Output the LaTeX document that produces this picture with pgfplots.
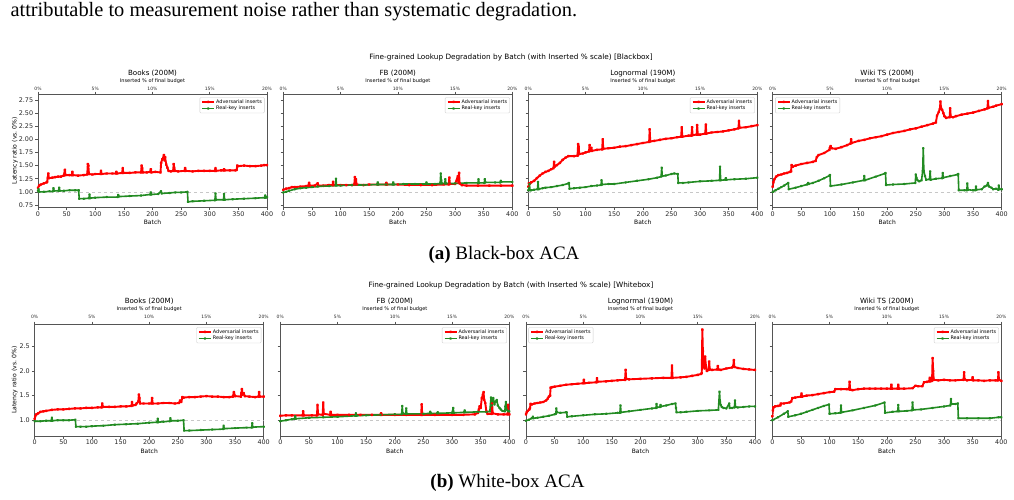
\documentclass[border=0pt]{standalone}
\usepackage{fontspec}
\setmainfont{Liberation Serif}
\newfontfamily\dejavu{DejaVu Sans}
\usepackage{pgfplots}
\pgfplotsset{compat=1.18}

\definecolor{advred}{RGB}{255,0,0}
\definecolor{realgreen}{RGB}{34,139,34}
\definecolor{spine}{RGB}{85,85,85}
\newcommand\fs[1]{\dejavu\fontsize{#1}{#1}\selectfont}

\pgfplotsset{
  panel/.style={
    scale only axis, width=229pt,
    xmin=0, xmax=400, xtick={0,50,...,400},
    xtick pos=bottom, ytick pos=left,
    tick align=outside, major tick length=2.8pt,
    axis line style={spine, line width=0.8pt},
    every tick/.style={spine, line width=0.6pt},
    tick label style={font=\fs{6.4}, text=black!85},
    /pgf/number format/assume math mode=true,
    xticklabel style={anchor=center, inner sep=0pt, yshift=-3.6pt},
    yticklabel style={anchor=east, inner sep=0pt, xshift=-1.9pt},
    xlabel={Batch},
    xlabel style={font=\fs{6}, anchor=center},
    ylabel style={font=\fs{6.1}, anchor=center},
    legend cell align=left,
    legend style={font=\fs{4.9}, draw=black!20, fill=white, rounded corners=1pt,
      inner xsep=1.5pt, inner ysep=0.8pt, row sep=-0.6pt, nodes={inner sep=1pt}},
    legend image code/.code={\draw[mark repeat=2,mark phase=2,#1]
      plot coordinates {(0pt,0pt) (6pt,0pt) (12pt,0pt)};},
  },
  row1/.style={panel, height=113pt, ymin=0.706, ymax=2.857,
    ytick={0.75,1,1.25,1.5,1.75,2,2.25,2.5,2.75},
    yticklabel style={/pgf/number format/.cd, fixed, fixed zerofill, precision=2},
    xlabel style={at={(0.5,-0.1327)}}, ylabel style={at={(-0.1004,0.5)}}},
  row2/.style={panel, height=111.7pt, ymin=0.68, ymax=2.946,
    ytick={1,1.5,2,2.5},
    yticklabel style={/pgf/number format/.cd, fixed, fixed zerofill, precision=1},
    xlabel style={at={(0.5,-0.1406)}}, ylabel style={at={(-0.0872,0.5)}}},
  nolab/.style={yticklabels={}},
  legR/.style={legend style={at={(1,1)}, anchor=north east, xshift=-2.4pt, yshift=-3pt}},
  legL/.style={legend style={at={(0,1)}, anchor=north west, xshift=2.4pt, yshift=-3pt}},
  top/.style={
    scale only axis, width=229pt,
    xmin=0, xmax=20, ymin=0, ymax=1,
    axis x line*=top, axis y line=none,
    xtick={0,5,10,15,20}, xticklabels={0\%,5\%,10\%,15\%,20\%},
    tick align=outside, major tick length=2.8pt,
    axis line style={spine, line width=0.8pt},
    every tick/.style={spine, line width=0.6pt},
    xticklabel style={font=\fs{4.5}, text=black!85, anchor=center, inner sep=0pt},
    xlabel={Inserted \% of final budget},
    xlabel style={font=\fs{5}, anchor=center},
    title style={font=\fs{7.1}, anchor=center},
  },
  top1/.style={top, height=113pt, xticklabel style={yshift=2.5pt},
    xlabel style={at={(0.5,1.118)}}, title style={at={(0.5,1.1327)}}},
  top2/.style={top, height=111.7pt, xticklabel style={yshift=4.8pt},
    xlabel style={at={(0.5,1.132)}}, title style={at={(0.5,1.1486)}}},
  refline/.style={forget plot, black!22, dashed, line width=0.7pt},
  adv/.style={advred, line width=1.9pt, line join=round, mark=*, mark size=0.55pt},
  real/.style={realgreen, line width=1.6pt, line join=round, mark=*, mark size=0.55pt},
}

\begin{document}
\begin{tikzpicture}
\path[use as bounding box] (0pt,0pt) rectangle (1014pt,-499pt);

% running text above the figure
\node[anchor=base west, font=\fontsize{20.4}{24}\selectfont] at (7pt,-16.7pt)
  {attributable to measurement noise rather than systematic degradation.};

% ===================== (a) Blackbox =====================
\node[font=\fs{7.3}] at (511pt,-57pt)
  {Fine-grained Lookup Degradation by Batch (with Inserted \% scale) [Blackbox]};

% Books (200M)
\begin{axis}[row1, legR, at={(38pt,-94.3pt)}, anchor=north west,
  ylabel={Latency ratio (vs.\ 0\%)}]
\addplot[refline] coordinates {(0,1) (400,1)};
\addplot[adv] coordinates {
(0,1.08) (2,1.12) (5,1.14) (10,1.16) (15,1.18) (16,1.19) (17,1.27) (18,1.35) (19,1.26)
(25,1.27) (30,1.28) (35,1.29) (40,1.29) (45,1.31) (47,1.42) (48,1.32) (55,1.32) (59,1.32)
(60,1.38) (61,1.32) (70,1.31) (80,1.32) (86,1.33) (87,1.53) (88,1.50) (89,1.34) (95,1.33)
(100,1.34) (109,1.34) (110,1.40) (111,1.34) (120,1.35) (130,1.35) (136,1.35) (137,1.38)
(138,1.35) (147,1.36) (148,1.45) (149,1.36) (160,1.36) (170,1.37) (180,1.37) (181,1.50)
(182,1.45) (183,1.37) (190,1.37) (196,1.38) (197,1.43) (198,1.37) (205,1.38) (214,1.37)
(215,1.55) (217,1.62) (219,1.65) (220,1.70) (221,1.60) (222,1.66) (224,1.52) (226,1.46)
(228,1.40) (232,1.39) (236,1.40) (237,1.53) (238,1.46) (239,1.40) (245,1.39) (256,1.40)
(257,1.45) (258,1.40) (270,1.39) (280,1.40) (290,1.40) (300,1.40) (309,1.40) (310,1.45)
(311,1.40) (320,1.41) (324,1.41) (325,1.43) (326,1.41) (335,1.41) (345,1.41) (347,1.42)
(348,1.50) (350,1.49) (360,1.50) (370,1.49) (380,1.49) (390,1.50) (395,1.51) (400,1.51)};
\addlegendentry{Adversarial inserts}
\addplot[real] coordinates {
(0,1.02) (1,1.05) (2,1.00) (10,1.00) (20,1.01) (26,1.01) (27,1.07) (28,1.02) (36,1.02)
(37,1.08) (38,1.02) (45,1.02) (55,1.03) (65,1.03) (71,1.03) (72,0.87) (80,0.87) (89,0.88)
(90,0.95) (91,0.88) (100,0.89) (120,0.90) (139,0.90) (140,0.94) (141,0.91) (160,0.92)
(180,0.93) (196,0.95) (197,0.99) (198,0.95) (210,0.96) (215,1.01) (216,0.97) (230,0.98)
(240,0.99) (250,0.99) (261,1.00) (262,0.81) (270,0.82) (290,0.83) (309,0.84) (310,0.97)
(311,0.85) (324,0.85) (325,0.96) (326,0.85) (340,0.86) (360,0.87) (380,0.88) (396,0.89)
(397,0.93) (398,0.89) (400,0.90)};
\addlegendentry{Real-key inserts}
\end{axis}
\begin{axis}[top1, at={(38pt,-94.3pt)}, anchor=north west, title={Books (200M)}]
\end{axis}

% FB (200M)
\begin{axis}[row1, nolab, legR, at={(283.3pt,-94.3pt)}, anchor=north west]
\addplot[refline] coordinates {(0,1) (400,1)};
\addplot[adv] coordinates {
(0,1.04) (5,1.06) (10,1.07) (15,1.09) (20,1.09) (30,1.10) (40,1.11) (44,1.12) (45,1.17)
(46,1.12) (55,1.12) (60,1.16) (61,1.12) (70,1.12) (80,1.13) (86,1.13) (87,1.19) (88,1.13)
(100,1.13) (110,1.13) (120,1.13) (124,1.14) (125,1.28) (126,1.18) (127,1.24) (128,1.14)
(140,1.13) (150,1.14) (165,1.14) (179,1.14) (180,1.17) (181,1.14) (200,1.14) (220,1.13)
(240,1.13) (260,1.13) (280,1.14) (289,1.14) (290,1.27) (291,1.15) (300,1.15) (305,1.30)
(306,1.18) (307,1.36) (308,1.16) (312,1.13) (320,1.12) (340,1.12) (360,1.12) (380,1.12)
(400,1.12)};
\addlegendentry{Adversarial inserts}
\addplot[real] coordinates {
(0,0.99) (5,1.00) (10,1.02) (20,1.05) (30,1.07) (40,1.08) (50,1.09) (60,1.10) (70,1.11)
(80,1.11) (91,1.12) (92,1.25) (93,1.12) (100,1.12) (120,1.13) (140,1.13) (164,1.14)
(165,1.18) (166,1.14) (180,1.14) (191,1.14) (192,1.18) (193,1.14) (210,1.15) (230,1.15)
(249,1.15) (250,1.18) (251,1.15) (265,1.15) (274,1.16) (275,1.35) (276,1.22) (277,1.16)
(282,1.16) (283,1.24) (284,1.16) (300,1.16) (320,1.17) (340,1.17) (341,1.24) (342,1.17)
(351,1.17) (352,1.24) (353,1.18) (370,1.18) (379,1.18) (380,1.21) (381,1.19) (400,1.19)};
\addlegendentry{Real-key inserts}
\end{axis}
\begin{axis}[top1, at={(283.3pt,-94.3pt)}, anchor=north west, title={FB (200M)}]
\end{axis}

% Lognormal (190M)
\begin{axis}[row1, nolab, legR, at={(528.3pt,-94.3pt)}, anchor=north west]
\addplot[refline] coordinates {(0,1) (400,1)};
\addplot[adv] coordinates {
(0,1.10) (1,1.16) (3,1.16) (5,1.18) (10,1.21) (15,1.26) (20,1.31) (25,1.35) (30,1.38)
(35,1.40) (40,1.43) (44,1.45) (45,1.57) (46,1.48) (50,1.51) (55,1.55) (60,1.61) (65,1.65)
(70,1.68) (80,1.68) (86,1.69) (87,1.91) (88,1.86) (89,1.72) (95,1.73) (100,1.75) (106,1.77)
(107,1.89) (108,1.78) (110,1.84) (111,1.78) (120,1.80) (129,1.81) (130,2.00) (131,1.82)
(140,1.83) (150,1.84) (160,1.86) (170,1.87) (180,1.89) (190,1.91) (200,1.93) (211,1.95)
(212,2.19) (213,1.96) (220,1.97) (230,1.99) (240,2.01) (250,2.02) (260,2.04) (267,2.05)
(268,2.23) (269,2.05) (280,2.07) (285,2.07) (286,2.23) (287,2.08) (294,2.09) (295,2.27)
(296,2.09) (300,2.09) (309,2.11) (310,2.28) (311,2.11) (320,2.13) (330,2.14) (340,2.15)
(350,2.17) (360,2.19) (367,2.21) (368,2.35) (369,2.22) (380,2.23) (390,2.25) (400,2.27)};
\addlegendentry{Adversarial inserts}
\addplot[real] coordinates {
(0,1.03) (1,1.08) (2,1.15) (3,1.03) (5,1.03) (10,1.04) (16,1.05) (17,1.19) (18,1.05)
(25,1.07) (30,1.08) (40,1.09) (50,1.11) (60,1.13) (70,1.16) (71,1.17) (72,1.06) (80,1.07)
(90,1.08) (100,1.09) (110,1.11) (120,1.12) (127,1.13) (128,1.22) (129,1.14) (140,1.15)
(150,1.15) (170,1.18) (190,1.21) (210,1.24) (225,1.27) (232,1.29) (233,1.46) (234,1.30)
(240,1.31) (250,1.34) (255,1.35) (261,1.34) (262,1.17) (270,1.17) (280,1.18) (300,1.20)
(320,1.21) (334,1.22) (335,1.48) (336,1.22) (344,1.23) (345,1.26) (346,1.23) (360,1.24)
(380,1.25) (400,1.27)};
\addlegendentry{Real-key inserts}
\end{axis}
\begin{axis}[top1, at={(528.3pt,-94.3pt)}, anchor=north west, title={Lognormal (190M)}]
\end{axis}

% Wiki TS (200M)
\begin{axis}[row1, nolab, legL, at={(772.7pt,-94.3pt)}, anchor=north west]
\addplot[refline] coordinates {(0,1) (400,1)};
\addplot[adv] coordinates {
(0,1.10) (1,1.18) (3,1.24) (6,1.29) (10,1.32) (15,1.33) (20,1.35) (25,1.36) (30,1.38)
(32,1.39) (33,1.51) (35,1.48) (40,1.50) (50,1.53) (60,1.55) (70,1.57) (75,1.59) (77,1.66)
(80,1.70) (90,1.74) (99,1.80) (100,1.84) (101,1.87) (103,1.83) (110,1.82) (120,1.85)
(130,1.89) (136,1.92) (137,2.00) (138,1.93) (150,1.97) (160,1.99) (170,2.02) (180,2.04)
(190,2.06) (200,2.09) (210,2.12) (220,2.14) (230,2.16) (240,2.19) (250,2.21) (260,2.24)
(270,2.27) (280,2.30) (285,2.32) (287,2.45) (290,2.52) (292,2.58) (293,2.72) (294,2.60)
(296,2.56) (298,2.50) (300,2.44) (303,2.41) (309,2.42) (310,2.59) (311,2.43) (315,2.42)
(320,2.44) (330,2.47) (340,2.49) (350,2.51) (360,2.54) (370,2.57) (375,2.59) (376,2.73)
(377,2.60) (385,2.62) (390,2.64) (400,2.67)};
\addlegendentry{Adversarial inserts}
\addplot[real] coordinates {
(0,1.00) (5,1.03) (10,1.06) (15,1.09) (20,1.12) (27,1.17) (28,1.05) (40,1.08) (50,1.11)
(60,1.14) (62,1.17) (63,1.15) (70,1.17) (80,1.21) (90,1.26) (99,1.31) (100,1.32) (101,1.11)
(120,1.14) (140,1.18) (159,1.22) (160,1.30) (161,1.22) (180,1.29) (196,1.35) (197,1.36)
(198,1.13) (210,1.14) (230,1.15) (249,1.17) (250,1.33) (251,1.27) (253,1.22) (256,1.20)
(260,1.22) (262,1.40) (263,1.83) (264,1.40) (266,1.30) (268,1.23) (274,1.24) (275,1.39)
(276,1.23) (285,1.25) (296,1.26) (297,1.36) (298,1.27) (310,1.30) (323,1.33) (324,1.34)
(325,1.03) (335,1.03) (339,1.03) (340,1.16) (341,1.04) (350,1.03) (354,1.03) (355,1.10)
(356,1.04) (365,1.05) (370,1.10) (374,1.12) (376,1.17) (378,1.10) (382,1.08) (385,1.05)
(390,1.06) (394,1.04) (395,1.12) (396,1.05) (400,1.05)};
\addlegendentry{Real-key inserts}
\end{axis}
\begin{axis}[top1, at={(772.7pt,-94.3pt)}, anchor=north west, title={Wiki TS (200M)}]
\end{axis}

\node[anchor=base, font=\fontsize{19}{22}\selectfont] at (504pt,-259.3pt)
  {\textbf{(a)} Black-box ACA};

% ===================== (b) Whitebox =====================
\node[font=\fs{7.3}] at (511pt,-285pt)
  {Fine-grained Lookup Degradation by Batch (with Inserted \% scale) [Whitebox]};

% Books (200M)
\begin{axis}[row2, legR, at={(34.7pt,-324.3pt)}, anchor=north west,
  ylabel={Latency ratio (vs.\ 0\%)}]
\addplot[refline] coordinates {(0,1) (400,1)};
\addplot[adv] coordinates {
(0,1.03) (1,1.08) (3,1.12) (6,1.14) (10,1.17) (15,1.18) (20,1.19) (30,1.21) (40,1.22)
(50,1.22) (60,1.23) (70,1.24) (80,1.24) (90,1.25) (100,1.25) (110,1.26) (117,1.26)
(118,1.34) (119,1.27) (130,1.27) (140,1.27) (150,1.28) (160,1.28) (169,1.29) (170,1.37)
(171,1.30) (176,1.31) (178,1.34) (181,1.38) (182,1.52) (183,1.45) (184,1.34) (190,1.34)
(200,1.34) (204,1.34) (205,1.45) (206,1.34) (215,1.34) (225,1.35) (235,1.35) (245,1.34)
(252,1.35) (254,1.40) (256,1.37) (258,1.47) (260,1.46) (270,1.47) (280,1.47) (290,1.48)
(300,1.49) (310,1.48) (320,1.48) (330,1.47) (340,1.47) (346,1.48) (348,1.57) (350,1.49)
(360,1.48) (361,1.55) (362,1.63) (363,1.52) (365,1.55) (367,1.49) (375,1.48) (385,1.47)
(391,1.48) (392,1.57) (393,1.48) (400,1.48)};
\addlegendentry{Adversarial inserts}
\addplot[real] coordinates {
(0,0.98) (10,0.98) (20,0.99) (29,0.99) (30,1.05) (31,0.99) (40,1.00) (50,1.00) (60,1.00)
(71,1.01) (72,0.87) (80,0.87) (90,0.87) (100,0.88) (120,0.89) (140,0.91) (160,0.92)
(180,0.93) (200,0.95) (214,0.96) (215,1.03) (216,0.96) (225,0.97) (236,0.98) (237,1.04)
(238,0.99) (250,0.99) (260,1.00) (261,0.79) (270,0.79) (290,0.80) (310,0.81) (329,0.82)
(330,0.89) (331,0.83) (350,0.84) (370,0.85) (379,0.85) (380,0.94) (381,0.86) (400,0.87)};
\addlegendentry{Real-key inserts}
\end{axis}
\begin{axis}[top2, at={(34.7pt,-324.3pt)}, anchor=north west, title={Books (200M)}]
\end{axis}

% FB (200M)
\begin{axis}[row2, nolab, legR, at={(280.3pt,-324.3pt)}, anchor=north west]
\addplot[refline] coordinates {(0,1) (400,1)};
\addplot[adv] coordinates {
(0,1.09) (10,1.10) (20,1.10) (39,1.10) (40,1.18) (41,1.10) (55,1.10) (64,1.10) (65,1.31)
(66,1.12) (74,1.11) (75,1.36) (76,1.13) (87,1.11) (88,1.17) (89,1.11) (100,1.11) (120,1.11)
(140,1.11) (160,1.11) (175,1.11) (176,1.14) (177,1.11) (200,1.11) (220,1.11) (246,1.11)
(247,1.32) (248,1.11) (270,1.11) (300,1.11) (320,1.11) (340,1.12) (345,1.15) (347,1.22)
(348,1.28) (350,1.25) (352,1.45) (354,1.52) (355,1.57) (356,1.42) (358,1.35) (360,1.18)
(362,1.13) (369,1.13) (370,1.34) (371,1.14) (380,1.12) (390,1.12) (397,1.12) (398,1.31)
(399,1.13) (400,1.12)};
\addlegendentry{Adversarial inserts}
\addplot[real] coordinates {
(0,0.98) (10,1.00) (20,1.02) (25,1.03) (26,1.08) (27,1.03) (50,1.05) (75,1.06) (100,1.07)
(131,1.09) (132,1.14) (133,1.09) (150,1.10) (175,1.11) (200,1.12) (212,1.12) (213,1.29)
(214,1.14) (219,1.13) (220,1.24) (221,1.13) (250,1.13) (261,1.14) (262,1.17) (263,1.14)
(274,1.14) (275,1.16) (276,1.14) (300,1.15) (302,1.25) (303,1.15) (321,1.16) (322,1.20)
(323,1.16) (345,1.17) (360,1.17) (366,1.18) (368,1.46) (369,1.30) (371,1.40) (372,1.45)
(374,1.32) (376,1.38) (378,1.41) (380,1.30) (383,1.25) (385,1.22) (388,1.19) (392,1.18)
(393,1.28) (394,1.37) (395,1.22) (398,1.18) (400,1.18)};
\addlegendentry{Real-key inserts}
\end{axis}
\begin{axis}[top2, at={(280.3pt,-324.3pt)}, anchor=north west, title={FB (200M)}]
\end{axis}

% Lognormal (190M)
\begin{axis}[row2, nolab, legL, at={(526pt,-324.3pt)}, anchor=north west]
\addplot[refline] coordinates {(0,1) (400,1)};
\addplot[adv] coordinates {
(0,1.12) (1,1.16) (3,1.19) (6,1.22) (7,1.25) (8,1.33) (10,1.32) (15,1.34) (20,1.35)
(25,1.36) (30,1.37) (35,1.40) (38,1.44) (40,1.48) (42,1.50) (43,1.66) (46,1.67) (50,1.68)
(60,1.70) (70,1.72) (80,1.73) (90,1.74) (100,1.75) (101,1.82) (102,1.75) (110,1.76)
(123,1.77) (124,1.85) (125,1.78) (140,1.79) (150,1.80) (160,1.81) (173,1.82) (174,2.02)
(175,1.84) (180,1.83) (200,1.84) (220,1.85) (240,1.86) (254,1.86) (255,2.11) (256,1.86)
(270,1.87) (280,1.88) (290,1.90) (300,1.92) (306,1.94) (307,1.96) (308,2.84) (309,2.40)
(310,2.10) (312,2.05) (313,2.29) (314,2.12) (316,2.00) (319,2.02) (320,2.19) (321,2.03)
(325,2.02) (334,2.03) (335,2.10) (336,2.03) (340,2.02) (350,2.05) (360,2.07) (362,2.10)
(363,2.22) (364,2.08) (370,2.06) (380,2.04) (390,2.03) (400,2.02)};
\addlegendentry{Adversarial inserts}
\addplot[real] coordinates {
(0,0.99) (5,1.01) (10,1.04) (12,1.07) (13,1.04) (20,1.05) (30,1.07) (40,1.09) (50,1.12)
(52,1.13) (53,1.24) (54,1.16) (60,1.15) (70,1.16) (71,1.16) (72,1.07) (80,1.08) (100,1.10)
(120,1.12) (140,1.13) (160,1.15) (164,1.15) (165,1.30) (166,1.16) (180,1.18) (200,1.21)
(220,1.24) (227,1.25) (228,1.33) (229,1.26) (234,1.27) (235,1.31) (236,1.28) (245,1.30)
(255,1.33) (261,1.34) (262,1.25) (263,1.16) (270,1.16) (280,1.17) (300,1.19) (320,1.20)
(336,1.21) (338,1.58) (339,1.38) (340,1.31) (342,1.27) (345,1.25) (350,1.24) (355,1.34)
(356,1.25) (360,1.25) (364,1.26) (365,1.40) (366,1.27) (370,1.26) (380,1.27) (390,1.28)
(400,1.28)};
\addlegendentry{Real-key inserts}
\end{axis}
\begin{axis}[top2, at={(526pt,-324.3pt)}, anchor=north west, title={Lognormal (190M)}]
\end{axis}

% Wiki TS (200M)
\begin{axis}[row2, nolab, legR, at={(772.3pt,-324.3pt)}, anchor=north west]
\addplot[refline] coordinates {(0,1) (400,1)};
\addplot[adv] coordinates {
(0,1.08) (1,1.20) (2,1.26) (5,1.28) (10,1.29) (14,1.30) (15,1.34) (20,1.34) (30,1.36)
(33,1.38) (35,1.45) (40,1.46) (50,1.48) (51,1.54) (52,1.48) (60,1.50) (70,1.51) (80,1.53)
(90,1.55) (100,1.57) (108,1.58) (110,1.63) (120,1.63) (130,1.63) (134,1.63) (135,1.78)
(136,1.62) (140,1.61) (150,1.63) (160,1.64) (170,1.64) (180,1.64) (190,1.64) (200,1.64)
(207,1.64) (208,1.72) (209,1.64) (219,1.64) (220,1.72) (221,1.64) (230,1.64) (245,1.65)
(250,1.70) (255,1.69) (262,1.69) (265,1.77) (270,1.78) (274,1.79) (275,1.86) (276,1.79)
(279,1.80) (280,2.26) (281,2.00) (282,1.82) (290,1.81) (300,1.82) (310,1.81) (320,1.81)
(334,1.82) (335,1.97) (336,1.83) (340,1.81) (349,1.82) (350,1.87) (351,1.81) (360,1.81)
(370,1.80) (380,1.81) (390,1.81) (394,1.81) (395,1.97) (396,1.82) (400,1.80)};
\addlegendentry{Adversarial inserts}
\addplot[real] coordinates {
(0,1.00) (10,1.06) (20,1.13) (27,1.18) (28,1.07) (40,1.10) (50,1.13) (60,1.17) (70,1.21)
(80,1.25) (90,1.29) (99,1.32) (100,1.13) (110,1.14) (119,1.15) (120,1.30) (121,1.16)
(140,1.20) (160,1.25) (180,1.30) (196,1.36) (197,1.15) (210,1.17) (219,1.18) (220,1.31)
(221,1.18) (235,1.19) (244,1.20) (245,1.36) (246,1.21) (260,1.22) (280,1.25) (300,1.28)
(311,1.30) (312,1.43) (313,1.33) (320,1.33) (324,1.34) (325,1.04) (340,1.04) (360,1.04)
(380,1.04) (395,1.06) (400,1.06)};
\addlegendentry{Real-key inserts}
\end{axis}
\begin{axis}[top2, at={(772.3pt,-324.3pt)}, anchor=north west, title={Wiki TS (200M)}]
\end{axis}

\node[anchor=base, font=\fontsize{19}{22}\selectfont] at (507.5pt,-487.7pt)
  {\textbf{(b)} White-box ACA};
\end{tikzpicture}
\end{document}
